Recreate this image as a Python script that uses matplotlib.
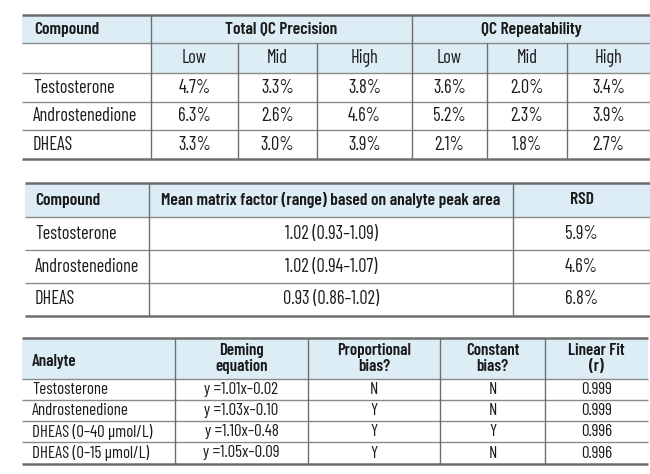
import matplotlib
matplotlib.use("Agg")
import matplotlib.pyplot as plt
from matplotlib.patches import Rectangle

plt.rcParams['font.family'] = ['Barlow Condensed', 'DejaVu Sans']

# ---------------- data ----------------
t1_groups = ["Total QC Precision", "QC Repeatability"]
t1_levels = ["Low", "Mid", "High"]
t1_compounds = ["Testosterone", "Androstenedione", "DHEAS"]
t1_precision = [["4.7%", "3.3%", "3.8%"],
                ["6.3%", "2.6%", "4.6%"],
                ["3.3%", "3.0%", "3.9%"]]
t1_repeat = [["3.6%", "2.0%", "3.4%"],
             ["5.2%", "2.3%", "3.9%"],
             ["2.1%", "1.8%", "2.7%"]]

t2_headers = ["Compound", "Mean matrix factor (range) based on analyte peak area", "RSD"]
t2_compounds = ["Testosterone", "Androstenedione", "DHEAS"]
t2_matrix = ["1.02 (0.93\u20131.09)", "1.02 (0.94\u20131.07)", "0.93 (0.86\u20131.02)"]
t2_rsd = ["5.9%", "4.6%", "6.8%"]

t3_headers = ["Analyte", "Deming\nequation", "Proportional\nbias?", "Constant\nbias?", "Linear Fit\n(r)"]
t3_analytes = ["Testosterone", "Androstenedione", "DHEAS (0\u201340 \u00b5mol/L)", "DHEAS (0\u201315 \u00b5mol/L)"]
t3_deming = ["y =1.01x\u20130.02", "y =1.03x\u20130.10", "y =1.10x\u20130.48", "y =1.05x\u20130.09"]
t3_prop = ["N", "Y", "Y", "Y"]
t3_const = ["N", "N", "Y", "N"]
t3_fit = ["0.999", "0.999", "0.996", "0.996"]

# ---------------- style ----------------
HDR = "#dcedf6"
LINE = "#8a8a8a"
EDGE = "#6e6e6e"
TXT = "#1a1a1a"

fig = plt.figure(figsize=(6.5, 4.74), dpi=100)
ax = fig.add_axes([0, 0, 1, 1])
ax.set_xlim(0, 650)
ax.set_ylim(474, 0)
ax.axis("off")


def hline(y, x0, x1, lw=1.0, c=LINE):
    ax.plot([x0, x1], [y, y], color=c, lw=lw, solid_capstyle="butt")


def vline(x, y0, y1, lw=1.0, c=EDGE):
    ax.plot([x, x], [y0, y1], color=c, lw=lw, solid_capstyle="butt")


def fill(x0, y0, x1, y1, c=HDR):
    ax.add_patch(Rectangle((x0, y0), x1 - x0, y1 - y0, facecolor=c, edgecolor="none", zorder=0))


def txt(x, y, s, ha="center", size=12, weight=400):
    ax.text(x, y, s, ha=ha, va="center", fontsize=size, color=TXT, weight=weight,
            linespacing=1.15)


S1 = 13.2      # body text, tables 1-2
H1 = 12.6      # header text, tables 1-2
S3 = 12.2      # body text, table 3
H3 = 12.2      # header text, table 3
HW = 600

# ---------------- table 1 ----------------
L1, R1 = 22, 650
cols1 = [L1, 151, 238, 317, 412, 487, 567, R1]
rows1 = [15, 43, 73, 102, 130, 159]
fill(L1, rows1[0], R1, rows1[1])
fill(cols1[1], rows1[1], R1, rows1[2])
hline(rows1[0], L1, R1, lw=1.8, c=EDGE)
for y in rows1[1:-1]:
    hline(y, L1, R1, lw=1.0)
hline(rows1[-1], L1, R1, lw=1.8, c=EDGE)
vline(cols1[1], rows1[0], rows1[-1])
vline(cols1[4], rows1[0], rows1[-1])
for c in (2, 3, 5, 6):
    vline(cols1[c], rows1[1], rows1[-1])

txt(L1 + 12, (rows1[0] + rows1[1]) / 2, "Compound", ha="left", size=H1, weight=HW)
for g, name in enumerate(t1_groups):
    xa, xb = cols1[1 + 3 * g], cols1[4 + 3 * g]
    txt((xa + xb) / 2, (rows1[0] + rows1[1]) / 2, name, size=H1, weight=HW)
    for j, lv in enumerate(t1_levels):
        xc = (cols1[1 + 3 * g + j] + cols1[2 + 3 * g + j]) / 2
        txt(xc, (rows1[1] + rows1[2]) / 2, lv, size=S1)
for i, comp in enumerate(t1_compounds):
    yc = (rows1[2 + i] + rows1[3 + i]) / 2
    txt(L1 + 11, yc, comp, ha="left", size=S1)
    vals = t1_precision[i] + t1_repeat[i]
    for j, v in enumerate(vals):
        xc = (cols1[1 + j] + cols1[2 + j]) / 2
        txt(xc, yc, v, size=S1)

# ---------------- table 2 ----------------
L2, R2 = 25, 650
cols2 = [L2, 149, 513, R2]
rows2 = [183, 217, 250, 283, 316]
fill(L2, rows2[0], R2, rows2[1])
hline(rows2[0], L2, R2, lw=1.8, c=EDGE)
for y in rows2[1:-1]:
    hline(y, L2, R2, lw=1.0)
hline(rows2[-1], L2, R2, lw=1.8, c=EDGE)
vline(cols2[1], rows2[0], rows2[-1])
vline(cols2[2], rows2[0], rows2[-1])
yh = (rows2[0] + rows2[1]) / 2
txt(L2 + 10, yh, t2_headers[0], ha="left", size=H1, weight=HW)
txt((cols2[1] + cols2[2]) / 2, yh, t2_headers[1], size=H1, weight=HW)
txt((cols2[2] + cols2[3]) / 2, yh, t2_headers[2], size=H1, weight=HW)
for i in range(len(t2_compounds)):
    yc = (rows2[1 + i] + rows2[2 + i]) / 2
    txt(L2 + 10, yc, t2_compounds[i], ha="left", size=S1)
    txt((cols2[1] + cols2[2]) / 2, yc, t2_matrix[i], size=S1)
    txt((cols2[2] + cols2[3]) / 2, yc, t2_rsd[i], size=S1)

# ---------------- table 3 ----------------
L3, R3 = 22, 648
cols3 = [L3, 175, 308, 440, 545, R3]
rows3 = [338, 379, 400, 421, 442, 464]
fill(L3, rows3[0], R3, rows3[1])
hline(rows3[0], L3, R3, lw=1.8, c=EDGE)
for y in rows3[1:-1]:
    hline(y, L3, R3, lw=1.0)
hline(rows3[-1], L3, R3, lw=1.8, c=EDGE)
for c in cols3[1:-1]:
    vline(c, rows3[0], rows3[-1])
yh = (rows3[0] + rows3[1]) / 2
txt(L3 + 10, yh + 3, t3_headers[0], ha="left", size=H3, weight=HW)
for j in range(1, 5):
    txt((cols3[j] + cols3[j + 1]) / 2, yh, t3_headers[j], size=H3, weight=HW)
cols_data = [t3_deming, t3_prop, t3_const, t3_fit]
for i in range(len(t3_analytes)):
    yc = (rows3[1 + i] + rows3[2 + i]) / 2
    txt(L3 + 10, yc, t3_analytes[i], ha="left", size=S3)
    for j, colv in enumerate(cols_data):
        txt((cols3[1 + j] + cols3[2 + j]) / 2, yc, colv[i], size=S3)

fig.savefig("out.png", dpi=100, facecolor="white")
